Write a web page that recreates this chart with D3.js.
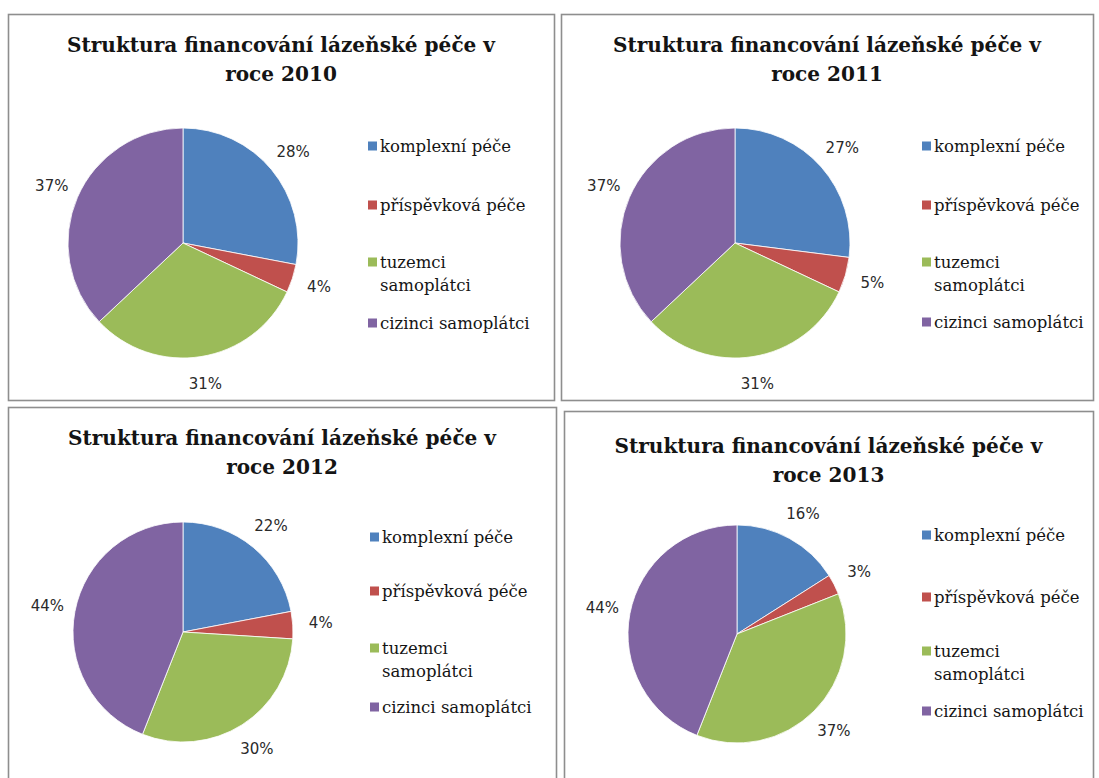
<!DOCTYPE html>
<html>
<head>
<meta charset="utf-8">
<script src="https://cdn.jsdelivr.net/npm/d3@7"></script>
<style>
  html, body { margin: 0; padding: 0; background: #ffffff; }
  svg { display: block; }
</style>
</head>
<body>
<svg id="chart" width="1099" height="778"></svg>
<script>
// Financing structure of spa care, one pie per year
const categories = ["komplexní péče", "příspěvková péče", "tuzemci samoplátci", "cizinci samoplátci"];
const legendLines = [["komplexní péče"], ["příspěvková péče"], ["tuzemci", "samoplátci"], ["cizinci samoplátci"]];
const years = [2010, 2011, 2012, 2013];
const share2010 = [28, 4, 31, 37];
const share2011 = [27, 5, 31, 37];
const share2012 = [22, 4, 30, 44];
const share2013 = [16, 3, 37, 44];
const shares = [share2010, share2011, share2012, share2013];
const titleLine1 = "Struktura financování lázeňské péče v";
const titlePrefix = "roce ";

const palette = ["#4F81BD", "#C0504D", "#9BBB59", "#8064A2"];

// Frame, pie and legend placement for each year's panel
const panels = [
  { x0: 8,   y0: 14,  x1: 554,  y1: 400, cx: 183, cy: 243, r: 115, t1: 44,  t2: 73,  lx: 368, ly: [146, 205, 262, 323] },
  { x0: 561, y0: 14,  x1: 1093, y1: 400, cx: 735, cy: 243, r: 115, t1: 44,  t2: 73,  lx: 922, ly: [146, 205, 262, 322] },
  { x0: 8,   y0: 407, x1: 556,  y1: 800, cx: 183, cy: 632, r: 110, t1: 437, t2: 466, lx: 370, ly: [537, 591, 648, 707] },
  { x0: 564, y0: 411, x1: 1093, y1: 800, cx: 737, cy: 634, r: 109, t1: 445, t2: 474, lx: 922, ly: [535, 597, 651, 711] }
];

const titleWidth = 428;   // rendered width of the first title line

const svg = d3.select("#chart");
const color = d3.scaleOrdinal().domain(categories).range(palette);
const pie = d3.pie().sort(null).value(d => d.value);
const fmt = d => d + "%";

years.forEach((year, i) => {
  const p = panels[i];
  const g = svg.append("g");

  // panel frame
  g.append("rect")
    .attr("x", p.x0 + 0.5).attr("y", p.y0 + 0.5)
    .attr("width", p.x1 - p.x0).attr("height", p.y1 - p.y0)
    .attr("fill", "#ffffff")
    .attr("stroke", "#8e8e8e")
    .attr("stroke-width", 1.6);

  // title, two centred lines, condensed to the same ratio
  const tx = (p.x0 + p.x1) / 2;
  const titles = [[titleLine1, p.t1], [titlePrefix + year, p.t2]].map(([txt, y]) =>
    g.append("text")
      .attr("x", tx).attr("y", y)
      .attr("text-anchor", "middle")
      .attr("dominant-baseline", "central")
      .attr("font-family", "'DejaVu Serif', serif")
      .attr("font-weight", "bold")
      .attr("font-size", 21)
      .attr("fill", "#141414")
      .text(txt));
  const ratio = titleWidth / titles[0].node().getComputedTextLength();
  titles.forEach(t => {
    const w = t.node().getComputedTextLength();
    t.attr("textLength", w * ratio).attr("lengthAdjust", "spacingAndGlyphs");
  });

  // pie slices
  const data = categories.map((c, k) => ({ name: c, value: shares[i][k] }));
  const arcs = pie(data);
  const arc = d3.arc().innerRadius(0).outerRadius(p.r);
  const labelArc = d3.arc().innerRadius(p.r + 28).outerRadius(p.r + 28);

  const pg = g.append("g").attr("transform", `translate(${p.cx},${p.cy})`);
  pg.selectAll("path")
    .data(arcs)
    .join("path")
    .attr("d", arc)
    .attr("fill", d => color(d.data.name))
    .attr("stroke", "#ffffff")
    .attr("stroke-width", 0.8)
    .attr("stroke-linejoin", "round");

  pg.selectAll("text")
    .data(arcs)
    .join("text")
    .attr("transform", d => `translate(${labelArc.centroid(d)})`)
    .attr("text-anchor", "middle")
    .attr("dominant-baseline", "central")
    .attr("font-family", "'DejaVu Sans', sans-serif")
    .attr("font-size", 15)
    .attr("fill", "#2a2a2a")
    .text(d => fmt(d.data.value));

  // legend
  const lg = g.append("g");
  categories.forEach((c, k) => {
    const y = p.ly[k];
    lg.append("rect")
      .attr("x", p.lx).attr("y", y - 4.5)
      .attr("width", 9).attr("height", 9)
      .attr("fill", color(c));
    legendLines[k].forEach((line, j) => {
      lg.append("text")
        .attr("x", p.lx + 12).attr("y", y + j * 23)
        .attr("dominant-baseline", "central")
        .attr("font-family", "'DejaVu Serif', serif")
        .attr("font-size", 16.5)
        .attr("fill", "#141414")
        .text(line);
    });
  });
});
</script>
</body>
</html>
